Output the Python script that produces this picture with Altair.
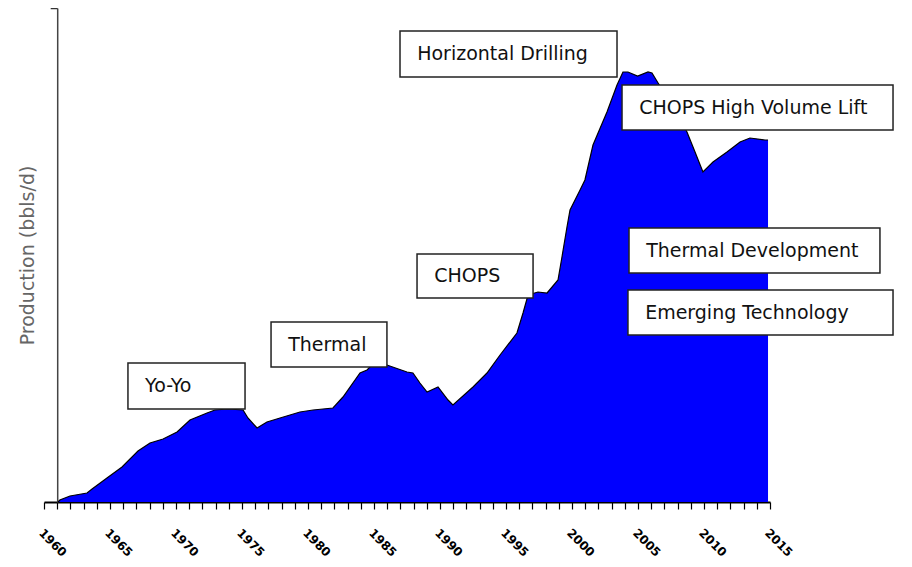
import altair as alt
import pandas as pd

# --- data (value units: arbitrary, axis top = 494) ---
years = [1961.06, 1961.2, 1961.97, 1963.26, 1963.64, 1964.77, 1965.91, 1967.12, 1968.03, 1969.02,
         1970.08, 1971.06, 1972.35, 1972.95, 1973.94, 1975.08, 1975.45, 1976.14, 1976.89, 1977.88,
         1979.39, 1980.38, 1981.89, 1982.65, 1983.94, 1984.47, 1985.08, 1985.98, 1987.5, 1987.95,
         1988.48, 1989.02, 1989.85, 1990.61, 1990.98, 1992.5, 1993.56, 1994.55, 1995.83, 1996.29,
         1996.67, 1997.42, 1998.11, 1998.94, 1999.24, 1999.62, 1999.85, 2000.61, 2000.98, 2001.59,
         2002.65, 2003.41, 2003.86, 2004.24, 2004.97, 2005.76, 2006.06, 2006.52, 2007.58, 2008.71,
         2009.32, 2009.92, 2010.68, 2011.74, 2012.73, 2013.48, 2014.62, 2014.85]
production = [0, 2, 6, 9, 13, 24, 35, 51, 59, 63,
              70, 82, 89, 92, 93, 92, 84, 74, 80, 84,
              90, 92, 94, 105, 129, 132, 140, 137, 130, 129,
              119, 110, 115, 102, 97, 115, 129, 147, 169, 189,
              207, 210, 209, 222, 245, 275, 292, 312, 322, 357,
              390, 417, 430, 430, 426, 430, 429, 419, 397, 370,
              350, 330, 340, 350, 360, 364, 362, 362]

tick_years = list(range(1960, 2016))

labels = ["Horizontal Drilling", "CHOPS High Volume Lift", "Thermal Development",
          "Emerging Technology", "CHOPS", "Thermal", "Yo-Yo"]

# annotation boxes (data coordinates: year / value)
box_x0 = [1986.97, 2003.79, 2004.32, 2004.24, 1988.26, 1977.20, 1966.36]
box_x1 = [2003.41, 2024.32, 2023.33, 2024.32, 1997.05, 1985.98, 1975.23]
box_top = [471, 417, 274, 212, 248, 180, 139]
box_bot = [425, 372, 229, 167, 204, 135, 93]

df = pd.DataFrame({"year": years, "prod": production})
ann = pd.DataFrame({"label": labels, "x0": box_x0, "x1": box_x1, "top": box_top, "bot": box_bot})
ann["tx"] = ann["x0"] + 1.3
ann["ty"] = (ann["top"] + ann["bot"]) / 2

xscale = alt.Scale(domain=[1960, 2015], nice=False, zero=False)
yscale = alt.Scale(domain=[0, 494], nice=False)

area = alt.Chart(df).mark_area(
    color="#0000FF", line={"color": "black", "strokeWidth": 1.2}, opacity=1
).encode(
    x=alt.X("year:Q", scale=xscale, title="",
            axis=alt.Axis(values=tick_years, tickCount=200,
                          labelExpr="datum.value % 5 == 0 ? datum.value : ''",
                          grid=False, domainColor="black", domainWidth=2, tickColor="black",
                          tickWidth=1.2, tickSize=7, labelAngle=45, labelAlign="left",
                          labelBaseline="top", labelPadding=18, labelFont="DejaVu Sans",
                          labelFontSize=12, labelFontWeight="bold", labelColor="black",
                          labelOverlap=False, labelFlush=False)),
    y=alt.Y("prod:Q", scale=yscale, title="Production (bbls/d)",
            axis=alt.Axis(values=[494], labels=False, grid=False, offset=-13.2,
                          domainColor="#444", domainWidth=1.5, tickColor="#333",
                          tickSize=7, tickWidth=1.5, titleFont="DejaVu Sans",
                          titleFontSize=19, titleFontWeight="normal", titleColor="#666",
                          titlePadding=12)),
)

boxes = alt.Chart(ann).mark_rect(fill="white", stroke="#222", strokeWidth=1.5).encode(
    x=alt.X("x0:Q", scale=xscale), x2="x1:Q",
    y=alt.Y("top:Q", scale=yscale), y2="bot:Q",
)

texts = alt.Chart(ann).mark_text(
    align="left", baseline="middle", font="DejaVu Sans", fontSize=19, color="#111"
).encode(
    x=alt.X("tx:Q", scale=xscale), y=alt.Y("ty:Q", scale=yscale), text="label:N"
)

chart = alt.layer(area, boxes, texts).properties(
    width=726, height=494,
    autosize=alt.AutoSizeParams(type="none"),
    padding={"left": 36, "top": 0, "right": 128, "bottom": 60},
).configure_view(strokeWidth=0)

chart.save("out.html", embed_options={"renderer": "svg", "actions": False})
